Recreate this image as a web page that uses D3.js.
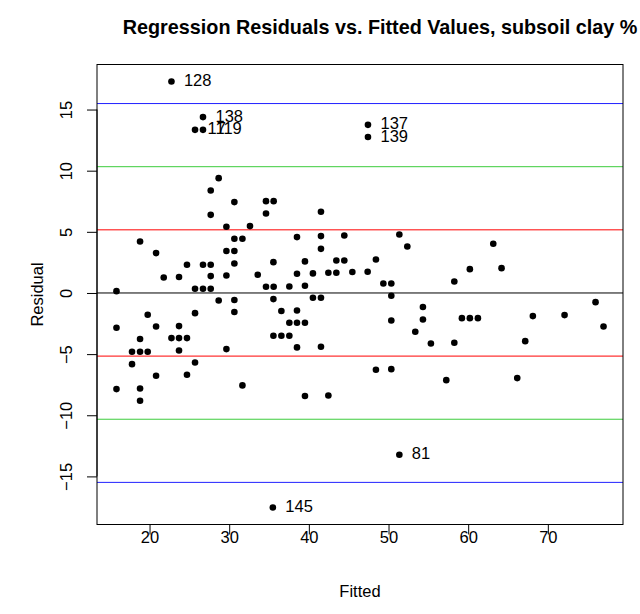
<!DOCTYPE html>
<html>
<head>
<meta charset="utf-8">
<script src="https://cdn.jsdelivr.net/npm/d3@7"></script>
<style>
  html, body { margin: 0; padding: 0; background: #fff; }
  svg { display: block; }
  text { font-family: "Liberation Sans", Arial, Helvetica, sans-serif; fill: #000; }
</style>
</head>
<body>
<svg id="chart" width="640" height="614"></svg>
<script>
// ---- data ----
const fitted = [
  22.75, 26.71, 25.71, 26.71, 47.42, 47.42, 28.68, 27.68, 30.65, 34.62,
  35.58, 27.68, 34.62, 41.52, 29.65, 32.61, 18.81, 30.65, 31.66, 38.51,
  41.52, 44.45, 51.36, 52.36, 63.15, 29.65, 30.65, 41.52, 20.82, 30.65,
  35.55, 39.51, 43.45, 44.45, 48.42, 64.19, 60.21, 24.70, 26.71, 27.68,
  21.78, 23.70, 27.68, 29.65, 33.58, 38.51, 40.51, 42.45, 43.45, 45.46,
  47.38, 15.85, 25.71, 26.71, 27.68, 34.62, 35.58, 37.55, 39.51, 49.35,
  50.35, 58.26, 50.35, 28.68, 30.65, 35.55, 40.51, 41.52, 54.32, 75.99,
  30.65, 25.71, 36.55, 38.51, 19.77, 50.35, 54.32, 59.21, 60.21, 61.22,
  68.12, 72.10, 76.99, 37.55, 38.51, 39.51, 20.82, 23.70, 15.85, 53.36,
  22.75, 23.70, 24.70, 18.81, 35.55, 36.55, 37.55, 55.32, 58.26, 67.16,
  38.51, 41.52, 29.65, 23.70, 17.80, 18.81, 19.77, 17.80, 25.71, 20.82,
  24.70, 48.42, 50.35, 31.66, 57.25, 66.16, 15.85, 18.81, 18.81, 39.51,
  42.45, 51.36, 35.48
];
const residuals = [
  17.29, 14.38, 13.34, 13.34, 13.75, 12.75, 9.39, 8.38, 7.43, 7.51,
  7.51, 6.39, 6.50, 6.64, 5.41, 5.47, 4.21, 4.43, 4.43, 4.57,
  4.65, 4.70, 4.78, 3.80, 4.02, 3.43, 3.43, 3.61, 3.26, 2.41,
  2.52, 2.58, 2.66, 2.66, 2.74, 2.03, 1.95, 2.31, 2.31, 2.31,
  1.27, 1.30, 1.38, 1.43, 1.49, 1.57, 1.60, 1.65, 1.65, 1.71,
  1.73, 0.15, 0.34, 0.34, 0.34, 0.51, 0.51, 0.53, 0.59, 0.78,
  0.78, 0.94, -0.23, -0.61, -0.58, -0.50, -0.39, -0.39, -1.15, -0.75,
  -1.56, -1.65, -1.48, -1.43, -1.78, -2.25, -2.17, -2.06, -2.06, -2.06,
  -1.89, -1.81, -2.74, -2.44, -2.44, -2.44, -2.74, -2.71, -2.85, -3.17,
  -3.69, -3.69, -3.69, -3.77, -3.50, -3.50, -3.50, -4.13, -4.07, -3.94,
  -4.45, -4.40, -4.59, -4.70, -4.81, -4.81, -4.81, -5.82, -5.68, -6.77,
  -6.69, -6.28, -6.23, -7.56, -7.13, -6.96, -7.86, -7.81, -8.81, -8.43,
  -8.38, -13.23, -17.54
];
// observation ids shown next to outlying points (index into the arrays above)
const labelIndex = [0, 1, 2, 3, 4, 5, 121, 122];
const labelText = ["128", "138", "17", "119", "137", "139", "81", "145"];

// reference lines: zero and 1, 2, 3 residual standard errors
const refLevels = [0, 5.163, -5.163, 10.326, -10.326, 15.489, -15.489];
const refColors = ["#000000", "#ff0000", "#ff0000", "#3ccc3c", "#3ccc3c", "#2020ff", "#2020ff"];

const xTicks = [20, 30, 40, 50, 60, 70];
const yTicks = [-15, -10, -5, 0, 5, 10, 15];

const titleText = "Regression Residuals vs. Fitted Values, subsoil clay %";
const xLabel = "Fitted";
const yLabel = "Residual";

// ---- layout ----
const plot = { left: 97, right: 623, top: 64.5, bottom: 524.5 };
const baseFont = 16.5;

function rExtend(ext) {
  const r = ext[1] - ext[0];
  return [ext[0] - 0.04 * r, ext[1] + 0.04 * r];
}

const x = d3.scaleLinear().domain(rExtend(d3.extent(fitted))).range([plot.left, plot.right]);
const y = d3.scaleLinear().domain(rExtend(d3.extent(residuals))).range([plot.bottom, plot.top]);

const svg = d3.select("#chart");

svg.append("defs").append("clipPath").attr("id", "clip")
  .append("rect")
  .attr("x", plot.left).attr("y", plot.top)
  .attr("width", plot.right - plot.left).attr("height", plot.bottom - plot.top);

const g = svg.append("g").attr("clip-path", "url(#clip)");

// reference lines
g.selectAll("line.ref")
  .data(refLevels)
  .join("line")
  .attr("class", "ref")
  .attr("x1", plot.left).attr("x2", plot.right)
  .attr("y1", d => y(d)).attr("y2", d => y(d))
  .attr("stroke", (d, i) => refColors[i])
  .attr("stroke-width", 1);

// points
const pts = fitted.map((f, i) => ({ f, r: residuals[i] }));
g.selectAll("circle")
  .data(pts)
  .join("circle")
  .attr("cx", d => x(d.f))
  .attr("cy", d => y(d.r))
  .attr("r", 3.3)
  .attr("fill", "#000");

// point labels
svg.append("g").selectAll("text")
  .data(labelIndex)
  .join("text")
  .attr("x", i => x(fitted[i]) + 12.5)
  .attr("y", i => y(residuals[i]) + 4.5)
  .attr("font-size", baseFont)
  .text((i, k) => labelText[k]);

// box
svg.append("rect")
  .attr("x", plot.left).attr("y", plot.top)
  .attr("width", plot.right - plot.left).attr("height", plot.bottom - plot.top)
  .attr("fill", "none").attr("stroke", "#000").attr("stroke-width", 1);

// x axis
const xAxis = d3.axisBottom(x).tickValues(xTicks).tickSize(10).tickFormat(d3.format("d"));
const xa = svg.append("g").attr("transform", `translate(0,${plot.bottom})`).call(xAxis);
xa.select(".domain").attr("d", `M${x(xTicks[0])},0H${x(xTicks[xTicks.length - 1])}`);
xa.selectAll("text").attr("font-size", baseFont).attr("font-family", null).attr("dy", null)
  .attr("y", 18.5);

// y axis
const yAxis = d3.axisLeft(y).tickValues(yTicks).tickSize(10).tickFormat(d => d < 0 ? "\u2212" + Math.abs(d) : String(d));
const ya = svg.append("g").attr("transform", `translate(${plot.left},0)`).call(yAxis);
ya.select(".domain").attr("d", `M0,${y(yTicks[0])}V${y(yTicks[yTicks.length - 1])}`);
ya.selectAll(".tick text")
  .attr("font-size", baseFont).attr("font-family", null)
  .attr("x", null).attr("dy", null)
  .attr("text-anchor", "middle")
  .attr("transform", "translate(-25,0) rotate(-90)");

// title & axis labels
svg.append("text")
  .attr("x", 380).attr("y", 34)
  .attr("text-anchor", "middle")
  .attr("font-size", 19.8).attr("font-weight", "bold")
  .text(titleText);

svg.append("text")
  .attr("x", (plot.left + plot.right) / 2).attr("y", 597)
  .attr("text-anchor", "middle")
  .attr("font-size", baseFont)
  .text(xLabel);

svg.append("text")
  .attr("transform", `translate(43,${(plot.top + plot.bottom) / 2}) rotate(-90)`)
  .attr("text-anchor", "middle")
  .attr("font-size", baseFont)
  .text(yLabel);
</script>
</body>
</html>
